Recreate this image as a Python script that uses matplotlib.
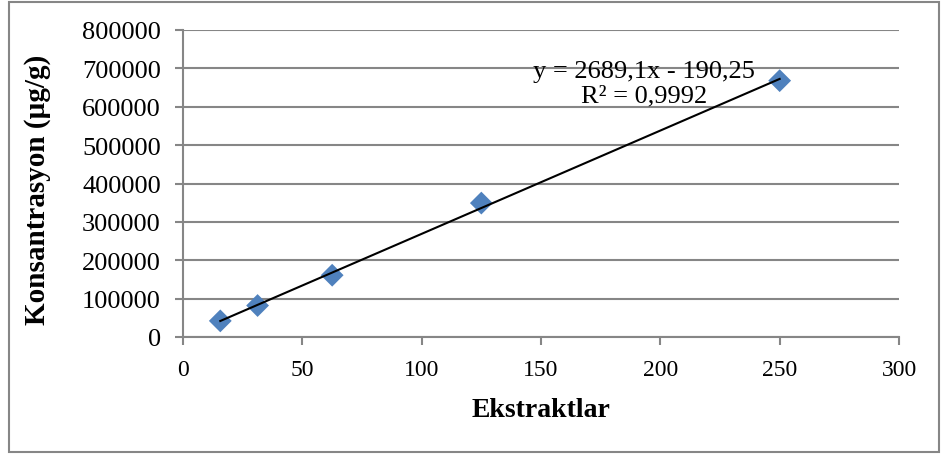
import numpy as np
import matplotlib.pyplot as plt
from matplotlib.patches import Rectangle

# data
ekstrakt = [15.625, 31.25, 62.5, 125, 250]
konsantrasyon = [42000, 82000, 161000, 349000, 668000]
x_ticks = [0, 50, 100, 150, 200, 250, 300]
y_ticks = [0, 100000, 200000, 300000, 400000, 500000, 600000, 700000, 800000]
equation_text = "y = 2689,1x - 190,25\nR² = 0,9992"

plt.rcParams['font.family'] = ['Liberation Serif', 'DejaVu Serif']

W, H = 947, 456
fig = plt.figure(figsize=(W / 100, H / 100), dpi=100)

# outer chart border
fig.patches.append(Rectangle((9 / W, 3 / H), 930 / W, 450 / H, transform=fig.transFigure,
                             fill=False, edgecolor='#868686', linewidth=1.5))

ax = fig.add_axes([183 / W, 1 - 338 / H, 716 / W, 307 / H])

# linear trendline
slope, intercept = np.polyfit(ekstrakt, konsantrasyon, 1)
xs = np.array([min(ekstrakt), max(ekstrakt)])
ax.plot(xs, slope * xs + intercept, color='black', linewidth=1.5, zorder=3)

ax.scatter(ekstrakt, konsantrasyon, marker='D', s=135, color='#4F81BD', zorder=2,
           edgecolors='none')

ax.set_xlim(0, 300)
ax.set_ylim(0, 800000)
ax.set_xticks(x_ticks)
ax.set_yticks(y_ticks)
ax.tick_params(colors='#868686', labelcolor='black', length=6, width=1.5)
ax.tick_params(axis='x', pad=10, labelsize=17)
ax.tick_params(axis='y', pad=10, labelsize=19)

ax.grid(axis='y', color='#868686', linewidth=1.5)
ax.set_axisbelow(True)
for side in ['top', 'right']:
    ax.spines[side].set_visible(False)
for side in ['left', 'bottom']:
    ax.spines[side].set_color('#868686')
    ax.spines[side].set_linewidth(1.5)

ax.set_xlabel('Ekstraktlar', fontsize=20, fontweight='bold')
ax.set_ylabel('Konsantrasyon (µg/g)', fontsize=21, fontweight='bold')
ax.xaxis.set_label_coords(0.5, -0.195)
ax.yaxis.set_label_coords(-0.185, 0.482)

ax.text(193, 662000, equation_text, ha='center', va='center', fontsize=19,
        linespacing=1.12)

fig.savefig('out.png', dpi=100)
